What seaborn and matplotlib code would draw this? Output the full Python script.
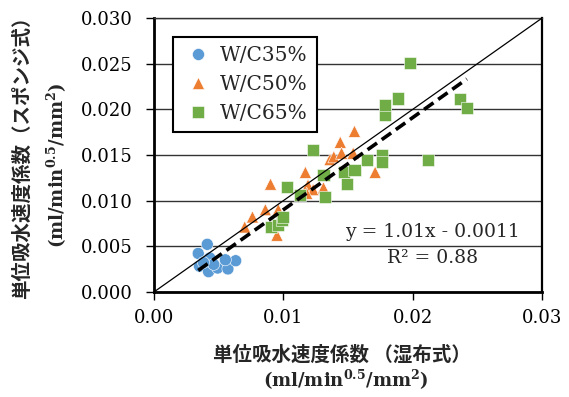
import numpy as np
import pandas as pd
import matplotlib
matplotlib.use('Agg')
import matplotlib.pyplot as plt
import seaborn as sns
from matplotlib.ticker import FormatStrFormatter

# ---- data ----
categories = ['W/C35%', 'W/C50%', 'W/C65%']
colors = ['#5B9BD5', '#ED7D31', '#70AD47']

wc35_x = [0.0041, 0.0034, 0.0043, 0.0035, 0.0042, 0.0049, 0.0057, 0.0063, 0.0055, 0.0046, 0.0038]
wc35_y = [0.0052, 0.0042, 0.0037, 0.0028, 0.0022, 0.0026, 0.0025, 0.0034, 0.0035, 0.0030, 0.0032]

wc50_x = [0.0070, 0.0076, 0.0086, 0.0090, 0.0096, 0.0095, 0.0117, 0.0119, 0.0123, 0.0131,
          0.0118, 0.0136, 0.0139, 0.0144, 0.0145, 0.0154, 0.0155, 0.0171]
wc50_y = [0.0071, 0.0082, 0.0090, 0.0118, 0.0090, 0.0062, 0.0131, 0.0117, 0.0112, 0.0114,
          0.0108, 0.0145, 0.0148, 0.0164, 0.0152, 0.0152, 0.0176, 0.0131]

wc65_x = [0.0090, 0.0096, 0.0099, 0.0100, 0.0103, 0.0113, 0.0123, 0.0131, 0.0132, 0.0147,
          0.0149, 0.0155, 0.0165, 0.0176, 0.0176, 0.0179, 0.0179, 0.0189, 0.0198, 0.0212,
          0.0237, 0.0242]
wc65_y = [0.0071, 0.0073, 0.0079, 0.0082, 0.0115, 0.0106, 0.0155, 0.0128, 0.0104, 0.0131,
          0.0118, 0.0134, 0.0145, 0.0150, 0.0142, 0.0194, 0.0205, 0.0212, 0.0251, 0.0144,
          0.0211, 0.0202]

slope = 1.01
intercept = -0.0011
r2 = 0.88

x_ticks = [0.00, 0.01, 0.02, 0.03]
y_ticks = [0.000, 0.005, 0.010, 0.015, 0.020, 0.025, 0.030]

xlabel1 = '単位吸水速度係数 （湿布式）'
ylabel1 = '単位吸水速度係数（スポンジ式）'
unit_label = r'(ml/min$^{\mathbf{0.5}}$/mm$^{\mathbf{2}}$)'

# ---- style ----
sns.set_style('white')
plt.rcParams['font.family'] = ['DejaVu Serif', 'Noto Sans CJK JP']
plt.rcParams['mathtext.fontset'] = 'custom'
plt.rcParams['mathtext.rm'] = 'DejaVu Serif'
plt.rcParams['mathtext.bf'] = 'DejaVu Serif:bold'

df = pd.concat([
    pd.DataFrame({'x': wc35_x, 'y': wc35_y, 'group': categories[0]}),
    pd.DataFrame({'x': wc50_x, 'y': wc50_y, 'group': categories[1]}),
    pd.DataFrame({'x': wc65_x, 'y': wc65_y, 'group': categories[2]}),
], ignore_index=True)

fig = plt.figure(figsize=(5.69, 3.97), dpi=100)
ax = fig.add_axes([0.2712, 0.2652, 0.6809, 0.6887])

sns.scatterplot(data=df, x='x', y='y', hue='group', style='group',
                hue_order=categories, style_order=categories,
                palette=dict(zip(categories, colors)),
                markers={categories[0]: 'o', categories[1]: '^', categories[2]: 's'},
                s=75, edgecolor='white', linewidth=0.4, ax=ax, zorder=3)

# 1:1 line
ax.axline((0, 0), slope=1, color='black', lw=0.9, zorder=4)
# regression line over data range
xr = np.array([df['x'].min(), df['x'].max()])
ax.plot(xr, slope * xr + intercept, color='black', lw=2.6, ls=(0, (3.2, 1.6)), zorder=5)

ax.set_xlim(0, 0.03)
ax.set_ylim(0, 0.03)
ax.set_xticks(x_ticks)
ax.set_yticks(y_ticks)
ax.xaxis.set_major_formatter(FormatStrFormatter('%.2f'))
ax.yaxis.set_major_formatter(FormatStrFormatter('%.3f'))
ax.set_xlabel('')
ax.set_ylabel('')

ax.grid(axis='y', color='#333333', lw=1.0)
ax.grid(axis='x', visible=False)
ax.set_axisbelow(True)

for side, lw in [('left', 2.0), ('bottom', 2.0), ('right', 1.6), ('top', 1.0)]:
    ax.spines[side].set_visible(True)
    ax.spines[side].set_color('black' if side != 'top' else '#333333')
    ax.spines[side].set_linewidth(lw)

ax.tick_params(axis='both', direction='out', length=5.5, width=1.0, color='black',
               labelsize=13, labelcolor='black')
ax.tick_params(axis='y', pad=10, left=True)
ax.tick_params(axis='x', pad=7, bottom=True)

handles, labels = ax.get_legend_handles_labels()
leg = ax.legend(handles, labels, loc='upper left', bbox_to_anchor=(0.048, 0.932),
                borderaxespad=0, frameon=True, fancybox=False, framealpha=1,
                edgecolor='black', fontsize=14.5, handlelength=1.6, handletextpad=0.3,
                labelspacing=0.5, borderpad=0.45, markerscale=1.0)
leg.get_frame().set_linewidth(1.5)

ax.text(0.719, 0.218, f'y = {slope:.2f}x - {abs(intercept):.4f}', transform=ax.transAxes,
        ha='center', va='center', fontsize=13.5,
        bbox=dict(facecolor='white', edgecolor='none', pad=1.0), zorder=6)
ax.text(0.719, 0.123, f'R² = {r2:.2f}', transform=ax.transAxes,
        ha='center', va='center', fontsize=13.5,
        bbox=dict(facecolor='white', edgecolor='none', pad=1.0), zorder=6)

fig.text(0.601, 0.106, xlabel1, ha='center', va='center', fontsize=14,
         fontweight='bold', family=['Noto Sans CJK JP'])
fig.text(0.608, 0.043, unit_label, ha='center', va='center', fontsize=13,
         fontweight='bold', family=['DejaVu Serif'])
fig.text(0.0387, 0.615, ylabel1, ha='center', va='center', fontsize=14,
         fontweight='bold', rotation=90, family=['Noto Sans CJK JP'])
fig.text(0.100, 0.584, unit_label, ha='center', va='center', fontsize=13,
         fontweight='bold', rotation=90, family=['DejaVu Serif'])

fig.savefig('out.png', dpi=100)
